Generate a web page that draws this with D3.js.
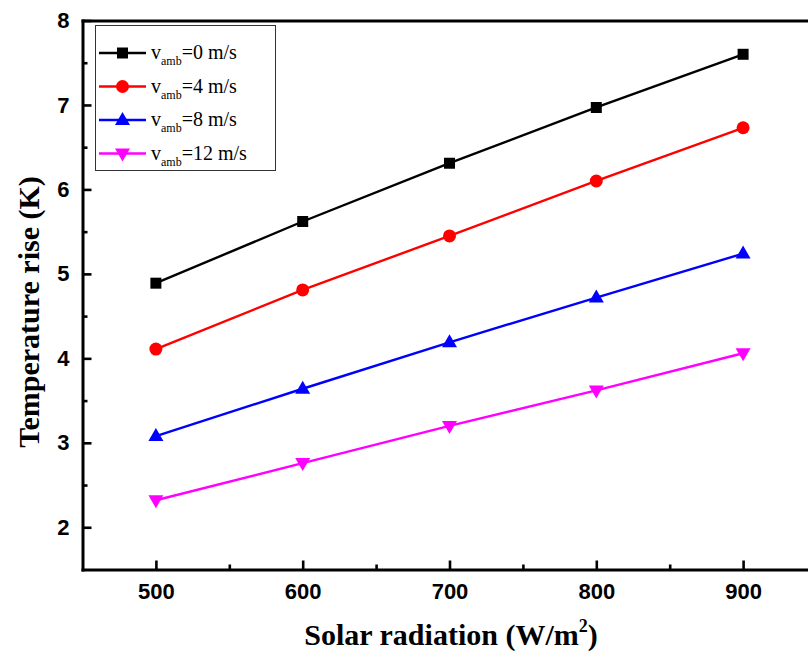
<!DOCTYPE html>
<html>
<head>
<meta charset="utf-8">
<script src="https://cdn.jsdelivr.net/npm/d3@7"></script>
<style>
  html, body { margin: 0; padding: 0; background: #fff; overflow: hidden; }
  svg { display: block; }
</style>
</head>
<body>
<svg id="chart" width="808" height="662"></svg>
<script>
// ---- data ----
const radiation = [500, 600, 700, 800, 900];
const v0  = [4.89, 5.62, 6.31, 6.97, 7.60];
const v4  = [4.11, 4.81, 5.45, 6.10, 6.73];
const v8  = [3.08, 3.64, 4.19, 4.72, 5.24];
const v12 = [2.32, 2.76, 3.20, 3.62, 4.06];
const speeds = ["0", "4", "8", "12"];
const xTicks = [500, 600, 700, 800, 900];
const yTicks = [2, 3, 4, 5, 6, 7, 8];

const seriesList = [
  { speed: speeds[0], values: v0,  color: "#000000", marker: "square" },
  { speed: speeds[1], values: v4,  color: "#ff0000", marker: "circle" },
  { speed: speeds[2], values: v8,  color: "#0000ff", marker: "up" },
  { speed: speeds[3], values: v12, color: "#ff00ff", marker: "down" }
];

const svg = d3.select("#chart");
const x = d3.scaleLinear().domain([450, 950]).range([82.5, 816.5]);
const y = d3.scaleLinear().domain([1.5, 8]).range([569.5, 20.5]);

function markerPath(type) {
  switch (type) {
    case "square": return "M-5.5,-5.5H5.5V5.5H-5.5Z";
    case "up": return "M0,-8L7.5,5L-7.5,5Z";
    case "down": return "M0,8L7.5,-5L-7.5,-5Z";
    default: return null;
  }
}
function drawMarker(g, type, color, cx, cy) {
  if (type === "circle") {
    g.append("circle").attr("cx", cx).attr("cy", cy).attr("r", 6.5).attr("fill", color);
  } else {
    g.append("path").attr("d", markerPath(type))
      .attr("transform", `translate(${cx},${cy})`).attr("fill", color);
  }
}

// ---- series ----
const line = d3.line().x(d => x(d[0])).y(d => y(d[1]));
const plot = svg.append("g");
seriesList.forEach(s => {
  const pts = radiation.map((r, i) => [r, s.values[i]]);
  plot.append("path").datum(pts).attr("d", line)
    .attr("fill", "none").attr("stroke", s.color).attr("stroke-width", 2.4);
  pts.forEach(p => drawMarker(plot, s.marker, s.color, x(p[0]), y(p[1])));
});

// ---- axes ----
const axisG = svg.append("g");
const minorX = d3.range(550, 950, 100);
const minorY = d3.range(2.5, 8, 1);

// bottom axis
axisG.append("g").attr("transform", `translate(0,${y(1.5)})`)
  .call(d3.axisBottom(x).tickValues(xTicks).tickFormat(d3.format("d"))
    .tickSize(-9).tickPadding(14).tickSizeOuter(0));
axisG.append("g").attr("transform", `translate(0,${y(1.5)})`)
  .call(d3.axisBottom(x).tickValues(minorX).tickSize(-5).tickFormat("").tickSizeOuter(0))
  .select(".domain").remove();
// left axis
axisG.append("g").attr("transform", `translate(${x(450)},0)`)
  .call(d3.axisLeft(y).tickValues(yTicks).tickFormat(d3.format("d"))
    .tickSize(-9).tickPadding(13).tickSizeOuter(0));
axisG.append("g").attr("transform", `translate(${x(450)},0)`)
  .call(d3.axisLeft(y).tickValues(minorY).tickSize(-5).tickFormat("").tickSizeOuter(0))
  .select(".domain").remove();
// top axis line
axisG.append("g").attr("transform", `translate(0,${y(8)})`)
  .call(d3.axisTop(x).tickValues([]).tickSizeOuter(0));

axisG.selectAll(".domain").attr("stroke", "#000").attr("stroke-width", 3).attr("stroke-linecap", "square");
axisG.selectAll(".tick line").attr("stroke", "#000").attr("stroke-width", 2.6);
axisG.selectAll(".tick text")
  .attr("font-family", "'Liberation Sans', Arial, sans-serif")
  .attr("font-weight", "bold").attr("font-size", 22).attr("fill", "#000");

// ---- axis titles ----
const xt = svg.append("text").attr("x", 451).attr("y", 645)
  .attr("text-anchor", "middle")
  .attr("font-family", "'Liberation Serif', 'Times New Roman', serif")
  .attr("font-weight", "bold").attr("font-size", 30);
xt.append("tspan").text("Solar radiation (W/m");
xt.append("tspan").text("2").attr("font-size", 18).attr("dy", -13);
xt.append("tspan").text(")").attr("dy", 13);

svg.append("text")
  .attr("transform", "translate(39,312) rotate(-90)")
  .attr("text-anchor", "middle")
  .attr("font-family", "'Liberation Serif', 'Times New Roman', serif")
  .attr("font-weight", "bold").attr("font-size", 30)
  .text("Temperature rise (K)");

// ---- legend ----
const lg = svg.append("g");
lg.append("rect").attr("x", 95.5).attr("y", 25.5).attr("width", 180).attr("height", 145)
  .attr("fill", "#fff").attr("stroke", "#333").attr("stroke-width", 1);
seriesList.forEach((s, i) => {
  const ry = 53 + i * 33.5;
  lg.append("line").attr("x1", 99).attr("x2", 146).attr("y1", ry).attr("y2", ry)
    .attr("stroke", s.color).attr("stroke-width", 2.4);
  drawMarker(lg, s.marker, s.color, 122.5, ry);
  const t = lg.append("text").attr("x", 151).attr("y", ry + 6)
    .attr("font-family", "'Liberation Serif', 'Times New Roman', serif")
    .attr("font-size", 20).attr("fill", "#000");
  t.append("tspan").text("v");
  t.append("tspan").text("amb").attr("font-size", 12).attr("dy", 6);
  t.append("tspan").text(`=${s.speed} m/s`).attr("dy", -6);
});
</script>
</body>
</html>
